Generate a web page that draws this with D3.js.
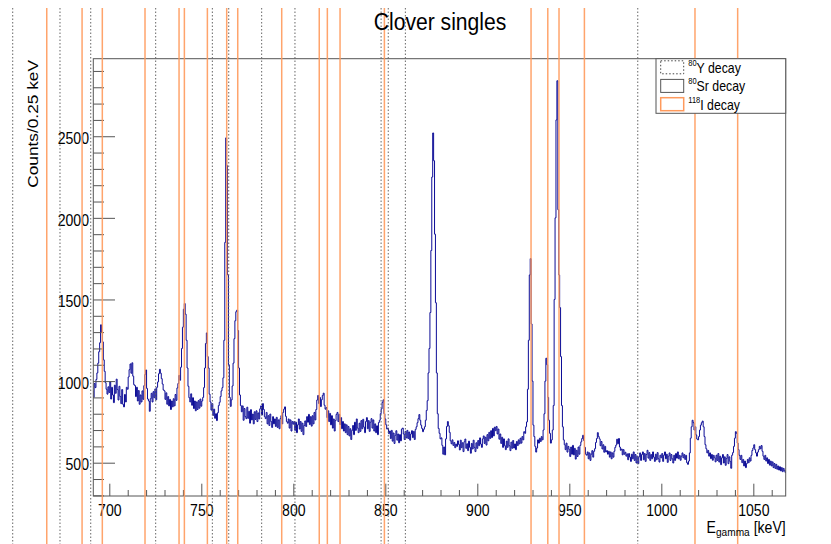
<!DOCTYPE html>
<html>
<head>
<meta charset="utf-8">
<script src="https://cdn.jsdelivr.net/npm/d3@7"></script>
<style>
  body { margin: 0; background: #fff; }
  svg { display: block; }
  text { font-family: "Liberation Sans", Arial, Helvetica, sans-serif; }
</style>
</head>
<body>
<svg id="chart" width="831" height="544"></svg>
<script>
// Clover singles spectrum: counts per bin, bins centred at binStart + i*binWidth (keV)
const binStart = 690;
const binWidth = 0.5;
const counts = [
  960,990,940,900,985,960,1010,1050,1110,1180,1235,1345,1300,1240,1130,1060,990,950,920,965,
  930,995,890,962,915,868,975,925,1012,948,884,968,906,862,948,858,842,918,872,962,
  950,1025,1070,1105,1048,1112,1030,978,972,905,962,878,942,858,915,872,940,888,972,1040,
  1068,955,890,878,815,892,925,872,935,898,952,886,962,995,1045,1072,1048,1015,982,946,
  940,888,928,858,905,848,888,826,878,842,892,848,918,882,958,985,1035,1005,1085,1200,
  1330,1440,1475,1410,1250,1080,968,898,872,922,852,898,832,878,818,872,826,880,834,890,
  846,878,900,960,1080,1230,1295,1150,1080,920,872,822,862,790,828,772,800,758,806,850,
  870,905,940,960,1020,1250,1850,2490,2320,1650,1100,900,845,885,970,1110,1260,1370,1425,1435,
  1310,1080,915,850,812,848,760,832,782,770,840,772,815,742,825,762,798,738,812,765,
  818,752,805,768,830,848,792,862,826,782,770,808,738,788,728,798,752,716,782,738,
  768,722,778,716,762,708,770,788,738,808,828,842,784,752,742,768,712,762,694,752,
  736,752,698,748,684,732,768,706,752,692,742,672,728,756,722,782,748,796,734,782,
  724,788,738,808,762,826,884,912,862,900,844,886,912,926,852,828,838,776,818,752,
  802,732,788,712,768,694,758,796,808,752,796,734,776,708,752,694,738,684,732,672,
  722,664,708,642,698,728,672,748,698,768,712,684,742,692,758,708,766,718,684,752,
  776,708,758,692,748,770,712,762,694,738,684,726,672,746,760,800,830,870,885,800,
  768,732,706,712,678,694,648,698,632,682,618,668,696,638,676,622,672,634,706,712,
  676,642,692,652,698,648,688,638,676,696,654,692,642,704,720,745,770,795,760,730,
  710,690,705,720,760,820,880,1050,1200,1420,1800,2250,2520,2350,1900,1480,1050,800,710,680,
  646,652,606,552,596,548,646,722,752,726,686,634,616,640,606,624,592,614,600,634,
  612,578,638,592,622,568,628,645,588,616,574,632,594,558,618,584,638,594,568,622,
  588,636,604,652,614,594,646,664,618,656,608,672,634,686,648,696,654,710,664,718,
  696,722,676,706,644,676,618,656,594,646,604,580,632,594,646,604,574,626,588,636,
  590,615,580,630,605,640,615,650,620,660,640,690,680,720,750,950,1250,1650,1750,1350,
  1000,730,660,600,565,590,640,620,650,630,660,640,700,800,1000,1140,1100,900,760,680,
  620,640,700,850,1500,2000,2600,2840,2050,1650,1450,1150,850,720,640,610,580,620,565,600,
  582,538,596,552,606,548,588,522,576,538,596,552,606,628,648,668,636,594,552,546,
  566,524,560,514,552,574,534,570,586,624,648,684,660,646,604,630,584,610,564,600,
  566,574,552,570,534,566,524,560,534,570,594,608,644,616,648,596,576,584,548,580,
  552,564,540,554,518,556,534,508,552,524,566,514,550,498,540,494,536,560,514,550,
  566,518,556,508,550,576,528,562,514,550,524,566,534,508,552,518,562,524,504,546,
  530,556,508,546,566,524,552,502,540,560,514,550,524,498,546,514,556,528,566,524,
  545,515,540,560,530,550,520,545,500,490,510,560,650,720,760,745,700,720,670,645,
  640,660,700,730,745,755,720,660,610,585,560,575,540,560,525,550,515,545,530,505,
  546,514,556,504,540,488,530,550,498,536,484,526,550,494,536,508,466,546,562,600,
  650,690,680,620,580,545,520,545,500,520,480,510,470,495,520,500,530,510,545,575,
  590,610,580,560,540,565,580,600,585,605,570,540,520,545,510,530,495,520,485,510,
  480,505,470,495,465,490,460,480,455,475,450,470,445,465,450,440,455,445,450,445
];

// Gamma-ray energies (keV) marked for each decay
const y80Lines = [647.5, 673.2, 689.9, 725.2, 756.0, 764.9, 782.8, 800.9, 847.7, 851.6, 860.9, 987.2];
const sr80Lines = [];
const i118Lines = [666.0, 685.2, 696.2, 719.4, 737.9, 740.8, 753.3, 763.8, 769.8, 793.7, 814.1,
                   818.5, 825.4, 849.5, 929.2, 938.3, 944.4, 958.2, 1018.3, 1041.5];

const xMajorTicks = [700, 750, 800, 850, 900, 950, 1000, 1050];
const xMinorTicks = d3.range(700, 1061, 10).filter(v => v % 50 !== 0);
const yMajorTicks = [500, 1000, 1500, 2000, 2500];
const yMinorTicks = d3.range(300, 2901, 100).filter(v => v % 500 !== 0);

const legendEntries = [
  { sup: "80",  label: "Y decay",  kind: "y80" },
  { sup: "80",  label: "Sr decay", kind: "sr80" },
  { sup: "118", label: "I decay",  kind: "i118" }
];

const W = 831, H = 544;
const frame = { left: 93.3, right: 785.7, top: 58.7, bottom: 496 };
const squeeze = 0.88;             // horizontal glyph scaling of the Helvetica-style text
const axisGrey = "#555";
const histColour = "#0c0c96";
const orange = "#ff9a5c";

const svg = d3.select("#chart");
svg.append("rect").attr("width", W).attr("height", H).attr("fill", "#fff");

const x = d3.scaleLinear().domain([691.3, 1067.6]).range([frame.left, frame.right]);
const y = d3.scaleLinear().domain([296, 2975]).range([frame.bottom, frame.top]);

svg.append("clipPath").attr("id", "plotClip")
  .append("rect")
  .attr("x", frame.left).attr("y", frame.top)
  .attr("width", frame.right - frame.left).attr("height", frame.bottom - frame.top);

// histogram as a step line
const pts = counts.map((c, i) => [binStart + i * binWidth - binWidth / 2, c]);
pts.push([binStart + counts.length * binWidth - binWidth / 2, counts[counts.length - 1]]);
const stepLine = d3.line().x(d => x(d[0])).y(d => y(d[1])).curve(d3.curveStepAfter);
svg.append("path")
  .attr("clip-path", "url(#plotClip)")
  .attr("d", stepLine(pts))
  .attr("fill", "none")
  .attr("stroke", histColour)
  .attr("stroke-width", 1);

// frame
svg.append("rect")
  .attr("x", frame.left).attr("y", frame.top)
  .attr("width", frame.right - frame.left).attr("height", frame.bottom - frame.top)
  .attr("fill", "none").attr("stroke", axisGrey).attr("stroke-width", 1);

// axes: ticks point into the frame
function styleAxis(g) {
  g.select(".domain").remove();
  g.selectAll("line").attr("stroke", axisGrey).attr("stroke-width", 1);
}
const gxMinor = svg.append("g").attr("transform", `translate(0,${frame.bottom})`)
  .call(d3.axisBottom(x).tickValues(xMinorTicks).tickSize(-6).tickFormat(""));
styleAxis(gxMinor);
const gx = svg.append("g").attr("transform", `translate(0,${frame.bottom})`)
  .call(d3.axisBottom(x).tickValues(xMajorTicks).tickSize(-12.3).tickPadding(8.6).tickFormat(d3.format("d")));
styleAxis(gx);
gx.selectAll("text")
  .attr("font-size", 16).attr("fill", "#000")
  .attr("font-family", '"Liberation Sans", Arial, sans-serif')
  .attr("transform", `scale(${squeeze},1)`);

const gyMinor = svg.append("g").attr("transform", `translate(${frame.left},0)`)
  .call(d3.axisLeft(y).tickValues(yMinorTicks).tickSize(-10.7).tickFormat(""));
styleAxis(gyMinor);
const gy = svg.append("g").attr("transform", `translate(${frame.left},0)`)
  .call(d3.axisLeft(y).tickValues(yMajorTicks).tickSize(-21.7).tickPadding(4.9).tickFormat(d3.format("d")));
styleAxis(gy);
gy.selectAll("text")
  .attr("font-size", 16).attr("fill", "#000").attr("dy", "0.45em")
  .attr("font-family", '"Liberation Sans", Arial, sans-serif')
  .attr("transform", `scale(${squeeze},1)`);

// decay energy markers
const markers = svg.append("g");
markers.selectAll("line.y80").data(y80Lines).join("line")
  .attr("class", "y80")
  .attr("x1", d => x(d)).attr("x2", d => x(d))
  .attr("y1", 8).attr("y2", H)
  .attr("stroke", "#666").attr("stroke-width", 1).attr("stroke-dasharray", "1.5,2");
markers.selectAll("line.sr80").data(sr80Lines).join("line")
  .attr("class", "sr80")
  .attr("x1", d => x(d)).attr("x2", d => x(d))
  .attr("y1", 8).attr("y2", H)
  .attr("stroke", "#555").attr("stroke-width", 1);
markers.selectAll("line.i118").data(i118Lines).join("line")
  .attr("class", "i118")
  .attr("x1", d => x(d)).attr("x2", d => x(d))
  .attr("y1", 8).attr("y2", H)
  .attr("stroke", orange).attr("stroke-width", 1.5).attr("stroke-opacity", 0.9);

// titles
svg.append("text")
  .attr("transform", `translate(440,29.5) scale(${squeeze},1)`)
  .attr("text-anchor", "middle").attr("font-size", 24).attr("fill", "#000")
  .text("Clover singles");

svg.append("text")
  .attr("transform", `translate(38,60) rotate(-90) scale(1,${squeeze})`)
  .attr("text-anchor", "end").attr("font-size", 17.3).attr("fill", "#000")
  .text("Counts/0.25 keV");

const xt = svg.append("text")
  .attr("transform", `translate(${frame.right},533.3) scale(${squeeze},1)`)
  .attr("text-anchor", "end").attr("font-size", 16).attr("fill", "#000");
xt.append("tspan").text("E");
xt.append("tspan").attr("font-size", 11.5).attr("dy", 2.2).text("gamma");
xt.append("tspan").attr("dy", -2.2).text(" [keV]");

// legend
const leg = { left: 656, right: frame.right, top: frame.top, bottom: 113.3 };
const lg = svg.append("g");
lg.append("rect")
  .attr("x", leg.left).attr("y", leg.top)
  .attr("width", leg.right - leg.left).attr("height", leg.bottom - leg.top)
  .attr("fill", "#fff").attr("stroke", axisGrey).attr("stroke-width", 1);
const rowCentre = [67.3, 85.9, 104.2];
const entry = lg.selectAll("g.entry").data(legendEntries).join("g")
  .attr("class", "entry")
  .attr("transform", (d, i) => `translate(0,${rowCentre[i]})`);
entry.append("rect")
  .attr("x", 660.7).attr("y", -6.5).attr("width", 23).attr("height", 13)
  .attr("fill", "none")
  .attr("stroke", d => d.kind === "i118" ? orange : (d.kind === "y80" ? "#444" : "#555"))
  .attr("stroke-width", d => d.kind === "i118" ? 1.5 : 1)
  .attr("stroke-dasharray", d => d.kind === "y80" ? "1.5,2" : null);
const lt = entry.append("text")
  .attr("transform", `translate(688.3,5.4) scale(${squeeze},1)`)
  .attr("font-size", 14).attr("fill", "#000");
lt.append("tspan").attr("font-size", 8.5).attr("dy", -7).text(d => d.sup);
lt.append("tspan").attr("dy", 7).text(d => d.label);
</script>
</body>
</html>
